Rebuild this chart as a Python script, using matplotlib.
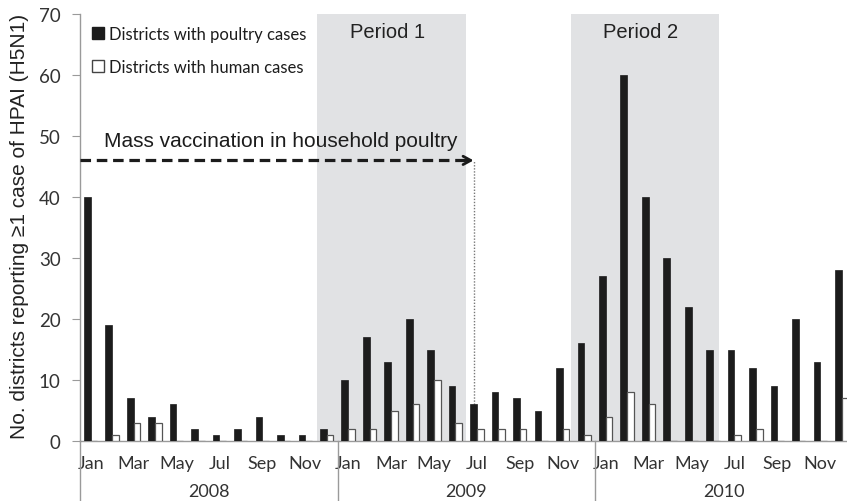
import matplotlib
matplotlib.use("Agg")
import matplotlib.pyplot as plt
from matplotlib.patches import Patch
import numpy as np

# ---- data ----
years = ["2008", "2009", "2010"]
month_names = ["Jan", "Feb", "Mar", "Apr", "May", "Jun",
               "Jul", "Aug", "Sep", "Oct", "Nov", "Dec"]
poultry = [40, 19, 7, 4, 6, 2, 1, 2, 4, 1, 1, 2,
           10, 17, 13, 20, 15, 9, 6, 8, 7, 5, 12, 16,
           27, 60, 40, 30, 22, 15, 15, 12, 9, 20, 13, 28]
human = [0, 1, 3, 3, 0, 0, 0, 0, 0, 0, 0, 1,
         2, 2, 5, 6, 10, 3, 2, 2, 2, 0, 2, 1,
         4, 8, 6, 0, 0, 0, 1, 2, 0, 0, 0, 7]
periods = [("Period 1", 10.72, 17.66), ("Period 2", 22.54, 29.45)]
vacc_end_month = 18   # Jul 2009
vacc_level = 46
yticks = [0, 10, 20, 30, 40, 50, 60, 70]

ARIAL = ["Liberation Sans", "DejaVu Sans"]
CALI = ["Lato", "DejaVu Sans"]

W, H = 847, 502
fig = plt.figure(figsize=(W / 100, H / 100), dpi=100)
ax_l, ax_r, ax_b, ax_t = 80, 847, 442, 15
ax = fig.add_axes([ax_l / W, (H - ax_b) / H, (ax_r - ax_l) / W, (ax_b - ax_t) / H])

n = len(poultry)
x = np.arange(n)
bw = 0.31
ax.bar(x, poultry, width=bw, color="#1c1c1c", edgecolor="#1c1c1c", linewidth=0.5, zorder=3)
ax.bar(x + bw, human, width=bw, color="white", edgecolor="#555555", linewidth=0.9, zorder=3)

ax.set_xlim(-0.34, 35.40)
ax.set_ylim(0, 70)

# shaded periods
for name, a, b in periods:
    ax.axvspan(a, b, color="#e1e2e4", zorder=0, lw=0)
    ax.text((a + b) / 2 - 0.2, 67.2, name, ha="center", va="center",
            fontsize=14.5, family=ARIAL, color="#222222")

# vaccination arrow
ax.plot([-0.34, vacc_end_month - 0.25], [vacc_level, vacc_level], color="#1c1c1c",
        lw=2.3, dashes=(3.3, 1.8), zorder=4, solid_capstyle="butt")
ax.annotate("", xy=(vacc_end_month, vacc_level), xytext=(vacc_end_month - 0.6, vacc_level),
            arrowprops=dict(arrowstyle="->,head_length=0.55,head_width=0.3",
                            lw=2.0, color="#1c1c1c", shrinkA=0, shrinkB=0), zorder=4)
ax.plot([vacc_end_month, vacc_end_month], [0, vacc_level], color="#777777",
        lw=1.0, ls=(0, (1, 1.2)), zorder=2)
ax.text(0.8, 49.2, "Mass vaccination in household poultry", ha="left", va="center",
        fontsize=15, family=ARIAL, color="#1c1c1c")

# axes styling
for s in ["top", "right"]:
    ax.spines[s].set_visible(False)
for s in ["left", "bottom"]:
    ax.spines[s].set_color("#9a9a9a")
    ax.spines[s].set_linewidth(1.0)

ax.set_yticks(yticks)
ax.tick_params(axis="y", direction="out", length=6, color="#9a9a9a", labelcolor="#333333",
               labelsize=13.5, pad=8)
for lab in ax.get_yticklabels():
    lab.set_family(CALI)

tick_pos = [i + bw / 2 for i in range(0, n, 2)]
tick_lab = [month_names[i % 12] for i in range(0, n, 2)]
ax.set_xticks(tick_pos)
ax.set_xticklabels(tick_lab)
ax.tick_params(axis="x", length=0, labelcolor="#333333", labelsize=13, pad=10)
for lab in ax.get_xticklabels():
    lab.set_family(CALI)

# year separators and labels
trans = ax.get_xaxis_transform()
sep_depth = (H - ax_b) / (ax_b - ax_t)
for k, yr in enumerate(years):
    xs = -0.34 + 12 * k
    ax.plot([xs, xs], [0, -sep_depth], transform=trans, color="#9a9a9a", lw=1.0, clip_on=False)
    ax.text(xs + 6, -50 / (ax_b - ax_t), yr, transform=trans, ha="center", va="center",
            fontsize=13, family=CALI, color="#333333")

# legend
handles = [Patch(facecolor="#1c1c1c", edgecolor="#1c1c1c"),
           Patch(facecolor="white", edgecolor="#444444", linewidth=1.0)]
ax.legend(handles, ["Districts with poultry cases", "Districts with human cases"],
          loc="upper left", bbox_to_anchor=(0.0, 1.0), frameon=False,
          prop=dict(family=CALI, size=12), handlelength=0.75, handleheight=0.75,
          handletextpad=0.3, labelspacing=1.05, borderaxespad=0.3, labelcolor="#1c1c1c")

fig.text(20 / W, (H - 226) / H, "No. districts reporting \u22651 case of HPAI (H5N1)",
         rotation=90, ha="center", va="center", fontsize=15, family=ARIAL, color="#222222")

fig.savefig("out.png", dpi=100)
